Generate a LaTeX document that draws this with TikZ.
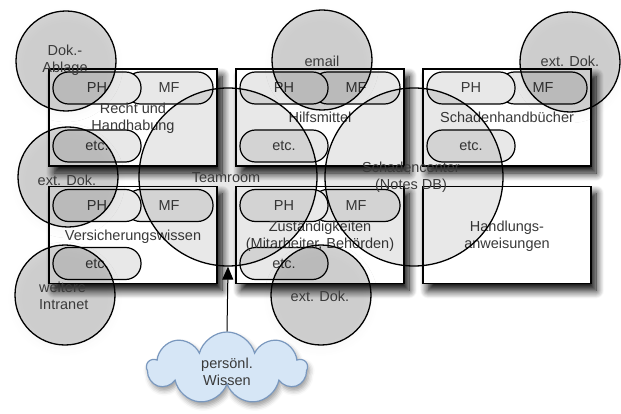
\documentclass[tikz,border=0pt]{standalone}
\usepackage{fontspec}
\setmainfont{Liberation Sans}
\usetikzlibrary{shapes.symbols,arrows.meta,shadows.blur}
\definecolor{txt}{HTML}{3A3A3A}
\definecolor{pillgray}{HTML}{E8E8E8}
\definecolor{cloudfill}{HTML}{D6E6F6}
\definecolor{cloudline}{HTML}{7A98BE}
\begin{document}
\begin{tikzpicture}[x=1pt,y=-1pt,
  every node/.style={font=\fontsize{14.5}{17}\selectfont, text=txt},
  panel/.style={draw=black, line width=1.4pt, fill=white,
    minimum width=168pt, minimum height=97pt, inner sep=0pt,
    blur shadow={shadow xshift=5pt, shadow yshift=-7pt,
      shadow blur radius=8pt, shadow blur steps=10,
      shadow opacity=100}},
  pill/.style={draw=black, line width=1.2pt, fill=pillgray,
    rounded corners=15.5pt, minimum width=88pt, minimum height=32pt,
    inner sep=0pt},
  bigring/.style={circle, draw=black, line width=1.3pt, fill=black,
    fill opacity=0.09, minimum size=178pt, inner sep=0pt},
  smallring/.style={circle, draw=black, line width=1.3pt, fill=black,
    fill opacity=0.17, minimum size=100pt, inner sep=0pt,
    blur shadow={shadow xshift=0pt, shadow yshift=-4pt,
      shadow blur radius=7pt, shadow opacity=18}},
  lbl/.style={align=center, inner sep=0pt},
  linkarrow/.style={draw=black, line width=1pt,
    -{Triangle[width=11pt,length=13pt]}},
  thought/.style={cloud, cloud puffs=9, cloud ignores aspect,
    draw=cloudline, line width=1.2pt, fill=cloudfill,
    minimum width=160pt, minimum height=72pt, inner sep=0pt,
    blur shadow={shadow xshift=2pt, shadow yshift=-4pt,
      shadow blur radius=5pt, shadow opacity=40}}
]
\useasboundingbox (0,0) rectangle (621,414);

% the six knowledge panels
\node[panel] (b1) at (133,117.5) {};
\node[panel] (b2) at (320,117.5) {};
\node[panel] (b3) at (507,117.5) {};
\node[panel] (b4) at (133,235) {};
\node[panel] (b5) at (320,235) {};
\node[panel] (b6) at (507,235) {};

% PH / MF / etc. tabs in the first five panels
\foreach \n/\cx/\cy in {b1/133/117.5, b2/320/117.5, b3/507/117.5,
                       b4/133/235, b5/320/235} {
  \node[pill] (\n-mf) at (\cx+36,\cy-29.5) {MF};
  \node[pill] (\n-ph) at (\cx-36,\cy-29.5) {PH};
  \node[pill] (\n-etc) at (\cx-36,\cy+28.5) {etc.};
}

% panel titles
\node[lbl] (t1) at (133,118.5) {Recht und\\Handhabung};
\node[lbl] (t2) at (320,117.5) {Hilfsmittel};
\node[lbl] (t3) at (507,117.5) {Schadenhandbücher};
\node[lbl] (t4) at (133,237) {Versicherungswissen};
\node[lbl] (t5) at (320,236.5) {Zuständigkeiten\\(Mitarbeiter, Behörden)};
\node[lbl] (t6) at (507,236.5) {Handlungs-\\anweisungen};

% the two shared stores
\node[bigring] (teamroom) at (228,177) {};
\node[bigring] (schaden) at (414,177) {};
\node[lbl] (teamroom-t) at (226,178) {Teamroom};
\node[lbl] (schaden-t) at (411,177) {Schadencenter\\(Notes DB)};

% external sources
\node[smallring] (dok) at (66,61) {};
\node[smallring] (email) at (322,60) {};
\node[smallring] (extA) at (570,62) {};
\node[smallring] (extB) at (68,177) {};
\node[smallring] (intra) at (65,295) {};
\node[smallring] (extC) at (321,295) {};
\node[lbl] at (65,60.5) {Dok.-\\Ablage};
\node[lbl] at (322,61) {email};
\node[lbl] at (570,61) {ext. Dok.};
\node[lbl] at (67,180) {ext. Dok.};
\node[lbl, align=left, anchor=west] at (39,296) {weitere\\Intranet};
\node[lbl] at (320,296) {ext. Dok.};

% personal knowledge feeding the team room
\node[thought] (wissen) at (227,368) {};
\node[lbl] at (227,371.5) {persönl.\\Wissen};
\draw[linkarrow] (wissen.north) -- (teamroom.south);
\end{tikzpicture}
\end{document}
